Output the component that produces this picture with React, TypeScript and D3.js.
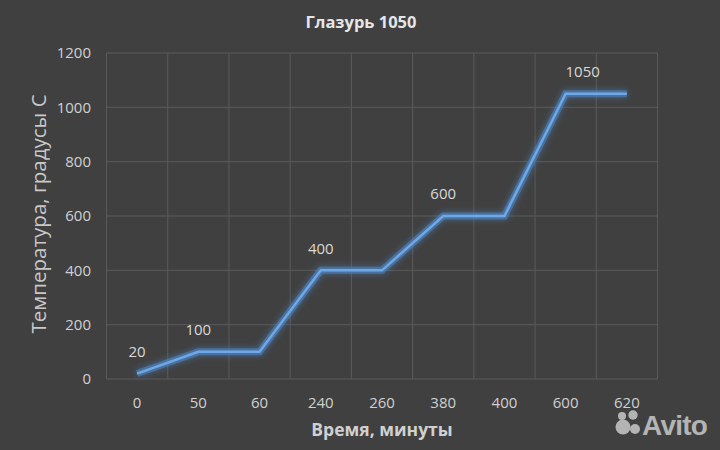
import React from "react";
import * as d3 from "d3";

const categories = ["0", "50", "60", "240", "260", "380", "400", "600", "620"];
const temperatures = [20, 100, 100, 400, 400, 600, 600, 1050, 1050];
const labeledIndices = [0, 1, 3, 5, 7];
const yTicks = [0, 200, 400, 600, 800, 1000, 1200];
const title = "Глазурь 1050";
const xTitle = "Время, минуты";
const yTitle = "Температура, градусы С";

const W = 720;
const H = 450;
const m = { left: 106.5, right: 62.5, top: 53, bottom: 71 };

export default function App() {
  const x = d3
    .scaleBand<string>()
    .domain(categories)
    .range([m.left, W - m.right])
    .paddingInner(0)
    .paddingOuter(0);
  const y = d3.scaleLinear().domain([0, 1200]).range([H - m.bottom, m.top]);
  const cx = (c: string) => (x(c) as number) + x.bandwidth() / 2;
  const line = d3
    .line<number>()
    .x((_, i) => cx(categories[i]))
    .y((d) => y(d));
  const path = line(temperatures) || "";
  const font = "'Open Sans', 'Noto Sans', sans-serif";
  const labelDx: Record<number, number> = { 7: 17 };

  return (
    <svg
      width={W}
      height={H}
      style={{ position: "absolute", left: 0, top: 0, display: "block" }}
    >
      <defs>
        <filter id="glow" x="-20%" y="-20%" width="140%" height="140%">
          <feGaussianBlur stdDeviation="3" result="b" />
          <feMerge>
            <feMergeNode in="b" />
            <feMergeNode in="SourceGraphic" />
          </feMerge>
        </filter>
      </defs>
      <rect x={0} y={0} width={W} height={H} fill="#404040" />
      <text
        x={361}
        y={28}
        textAnchor="middle"
        fill="#e6e6e6"
        fontFamily={font}
        fontWeight="bold"
        fontSize={16.5}
      >
        {title}
      </text>
      {/* horizontal gridlines */}
      {yTicks.map((t) => (
        <line
          key={"h" + t}
          x1={m.left}
          x2={W - m.right}
          y1={y(t)}
          y2={y(t)}
          stroke="#5a5a5a"
          strokeWidth={1}
        />
      ))}
      {/* vertical gridlines */}
      {categories.map((c) => (
        <line
          key={"v" + c}
          x1={x(c) as number}
          x2={x(c) as number}
          y1={y(1200)}
          y2={y(0)}
          stroke="#5a5a5a"
          strokeWidth={1}
        />
      ))}
      <line
        x1={W - m.right}
        x2={W - m.right}
        y1={y(1200)}
        y2={y(0)}
        stroke="#5a5a5a"
        strokeWidth={1}
      />
      {/* y tick labels */}
      {yTicks.map((t) => (
        <text
          key={"yt" + t}
          x={91}
          y={y(t)}
          dy="0.35em"
          textAnchor="end"
          fill="#d0d0d0"
          fontFamily={font}
          fontSize={15}
        >
          {t}
        </text>
      ))}
      {/* x tick labels */}
      {categories.map((c) => (
        <text
          key={"xt" + c}
          x={cx(c)}
          y={408}
          textAnchor="middle"
          fill="#d0d0d0"
          fontFamily={font}
          fontSize={15}
        >
          {c}
        </text>
      ))}
      <text
        x={382}
        y={436}
        textAnchor="middle"
        fill="#d0d0d0"
        fontFamily={font}
        fontWeight="bold"
        fontSize={17.5}
      >
        {xTitle}
      </text>
      <text
        transform={`translate(46,214) rotate(-90)`}
        textAnchor="middle"
        fill="#c8c8c8"
        fontFamily={font}
        fontSize={20.5}
      >
        {yTitle}
      </text>
      {/* line with glow */}
      <path
        d={path}
        fill="none"
        stroke="#4f86c6"
        strokeOpacity={0.55}
        strokeWidth={7}
        filter="url(#glow)"
        strokeLinejoin="miter"
      />
      <path
        d={path}
        fill="none"
        stroke="#6fa8e6"
        strokeWidth={2.5}
        strokeLinejoin="miter"
      />
      {/* data labels */}
      {labeledIndices.map((i) => (
        <text
          key={"dl" + i}
          x={cx(categories[i]) + (labelDx[i] || 0)}
          y={y(temperatures[i]) - 22}
          dy="0.35em"
          textAnchor="middle"
          fill="#d9d9d9"
          fontFamily={font}
          fontSize={15}
        >
          {temperatures[i]}
        </text>
      ))}
      {/* watermark */}
      <g fill="#b4b4b4">
        <circle cx={622} cy={416} r={4} />
        <circle cx={633} cy={415} r={4.7} />
        <circle cx={623} cy={427} r={7.5} />
        <circle cx={635} cy={429} r={5} />
        <text
          x={642}
          y={435}
          fontFamily="'Liberation Sans', Arial, sans-serif"
          fontWeight="bold"
          fontSize={28}
          letterSpacing={-0.8}
        >
          Avito
        </text>
      </g>
    </svg>
  );
}
